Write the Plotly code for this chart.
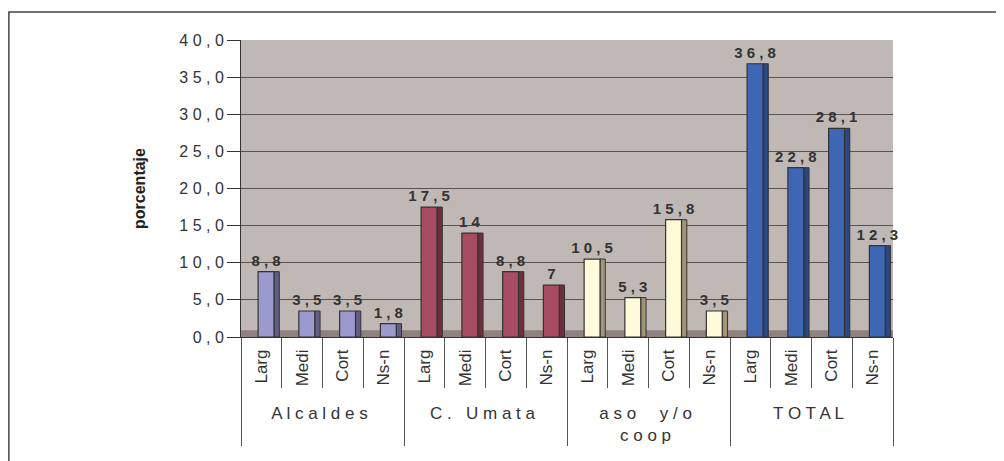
import plotly.graph_objects as go

groups = ["Alcaldes", "C. Umata", "aso  y/o<br>coop", "TOTAL"]
subs = ["Larg", "Medi", "Cort", "Ns-n"]

alcaldes = [8.8, 3.5, 3.5, 1.8]
umata = [17.5, 14, 8.8, 7]
aso_coop = [10.5, 5.3, 15.8, 3.5]
total = [36.8, 22.8, 28.1, 12.3]

y_ticks = [0, 5, 10, 15, 20, 25, 30, 35, 40]

colors = ["#9C99CF", "#A84C5F", "#FFFBDA", "#3D66B4"]
side_colors = ["#625E85", "#6E2F3C", "#A39478", "#2B4780"]


def spaced(txt):
    # Excel draws these labels with wide letter spacing
    return "<br>".join(" ".join(part) for part in txt.split("<br>"))


def label(v):
    return spaced(format(v, "g").replace(".", ","))


fig = go.Figure()

for g, vals, c, sc in zip(groups, [alcaldes, umata, aso_coop, total], colors, side_colors):
    x = [[spaced(g)] * len(subs), [s + "\u00a0" for s in subs]]
    # darker side face to hint at the 3-D column look
    fig.add_trace(go.Bar(
        x=x, y=vals,
        marker=dict(color=sc, line=dict(color="#333333", width=1)),
        offset=0.31, width=0.13,
        hoverinfo="skip", showlegend=False,
    ))
    fig.add_trace(go.Bar(
        x=x, y=vals,
        marker=dict(color=c, line=dict(color="#333333", width=1.2)),
        offset=-0.08, width=0.39,
        text=[label(v) for v in vals],
        textposition="outside",
        constraintext="none",
        textfont=dict(family="Liberation Sans, Arial", size=15, color="#333333"),
        texttemplate="<b>%{text}</b>",
        cliponaxis=False,
        showlegend=False,
    ))

# page is offset 8px by the browser body margin
fig.update_layout(
    width=996,
    height=453,
    margin=dict(l=233, r=111, t=32, b=124),
    paper_bgcolor="white",
    plot_bgcolor="#C0B8B5",
    barmode="overlay",
    font=dict(family="Liberation Sans, Arial", size=14, color="#333333"),
    shapes=[
        dict(type="rect", xref="paper", yref="paper",
             x0=-0.356, x1=1.2, y0=-0.6, y1=1.094,
             line=dict(color="#444444", width=1.5), layer="below"),
        dict(type="rect", xref="paper", yref="y",
             x0=0, x1=1, y0=0, y1=0.9,
             fillcolor="#8F817D", line=dict(width=0), layer="below"),
    ],
)

fig.update_yaxes(
    range=[0, 40],
    tickvals=y_ticks,
    ticktext=[spaced(f"{v:.1f}".replace(".", ",")) for v in y_ticks],
    ticks="outside",
    ticklen=13,
    tickcolor="#333333",
    showline=True,
    linecolor="#333333",
    gridcolor="#5a5252",
    gridwidth=1,
    zeroline=False,
    tickfont=dict(size=16, color="#333333"),
    title=dict(text="<b>porcentaje</b>", font=dict(size=16, color="#222222"), standoff=29),
)

fig.update_xaxes(
    type="multicategory",
    tickangle=-90,
    showline=True,
    linecolor="#333333",
    ticks="outside",
    tickson="boundaries",
    ticklen=50,
    tickcolor="#555555",
    showdividers=True,
    dividercolor="#555555",
    dividerwidth=1,
    tickfont=dict(size=17, color="#333333"),
)

fig.write_html("out.html")
